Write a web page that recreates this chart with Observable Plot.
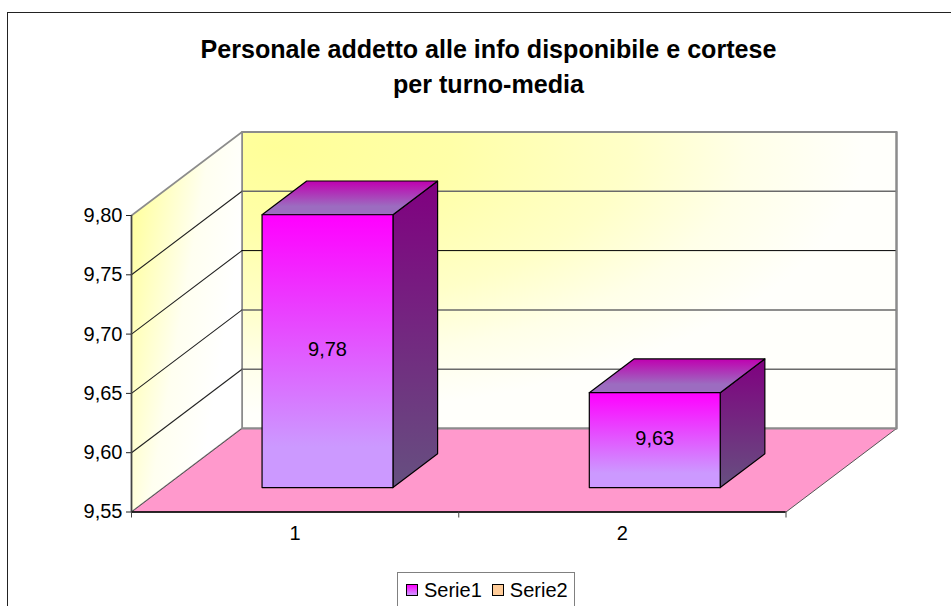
<!DOCTYPE html>
<html lang="it">
<head>
<meta charset="utf-8">
<script src="https://cdn.jsdelivr.net/npm/d3@7"></script>
<script src="https://cdn.jsdelivr.net/npm/@observablehq/plot@0.6"></script>
<style>
  html, body { margin: 0; padding: 0; width: 951px; height: 606px; overflow: hidden; background: #fff;
    font-family: "Liberation Sans", Arial, sans-serif; color: #000; }
  #frame { position: absolute; left: 7px; top: 12px; width: 1000px; height: 700px; border: 1.5px solid #222; }
  #title { position: absolute; left: 0; width: 977px; top: 32px; text-align: center; font-weight: bold;
    font-size: 25.1px; line-height: 35px; }
  #chart { position: absolute; left: 0; top: 0; }
  #legend { position: absolute; left: 397px; top: 572px; width: 178px; height: 60px; border: 1px solid #808080;
    display: flex; gap: 10px; padding: 5px 0 0 8px; box-sizing: border-box; font-size: 20px; line-height: 24px; }
  #legend span.item { display: flex; align-items: center; height: 23px; gap: 6px; }
  #legend i { display: block; width: 10px; height: 10px; border: 1px solid #000; }
</style>
</head>
<body>
<div id="frame"></div>
<div id="chart"></div>
<div id="title">Personale addetto alle info disponibile e cortese<br>per turno-media</div>
<div id="legend"></div>
<script>
const categories = ["1", "2"];
const serie1 = [9.78, 9.63];
const legendNames = ["Serie1", "Serie2"];
const yTicks = [9.55, 9.60, 9.65, 9.70, 9.75, 9.80];

const y0 = 9.55, yMax = 9.80;
const depthX = 0.3377, depthY = 0.0704;   // oblique projection, in data units per unit of depth
const barFront = 0.293, barBack = 0.697, barHalf = 0.2;

// oblique projection of (category position, value, depth) into the x/y data space
const P = (c, v, d) => ({x: c + depthX * d, y: v + depthY * d});
const poly = (pts, options) => Plot.line([...pts, pts[0]].map(p => P(...p)), {x: "x", y: "y", strokeLinejoin: "round", ...options});

const fmt = v => v.toFixed(2).replace(".", ",");

const gradients = () => d3.create("svg:defs").html(`
  <radialGradient id="gBack" cx="0.05" cy="0.05" r="0.9" fx="0.05" fy="0.05">
    <stop offset="0" stop-color="#ffff99"/><stop offset="0.3" stop-color="#ffffa8"/><stop offset="0.6" stop-color="#ffffc8"/><stop offset="0.8" stop-color="#ffffe8"/><stop offset="1" stop-color="#fffffb"/>
  </radialGradient>
  <linearGradient id="gLeft" x1="0" y1="0.15" x2="0.8" y2="0.62">
    <stop offset="0" stop-color="#ffff99"/><stop offset="0.6" stop-color="#fffff0"/><stop offset="1" stop-color="#ffffff"/>
  </linearGradient>
  <linearGradient id="gFront" x1="0" y1="0" x2="0" y2="1">
    <stop offset="0" stop-color="#ff00ff"/><stop offset="0.85" stop-color="#cc99ff"/><stop offset="1" stop-color="#cc99ff"/>
  </linearGradient>
  <linearGradient id="gTop" x1="0" y1="0" x2="0" y2="1">
    <stop offset="0" stop-color="#c000b0"/><stop offset="0.75" stop-color="#9c6cc0"/><stop offset="1" stop-color="#9c6cc0"/>
  </linearGradient>
  <linearGradient id="gSide" x1="0" y1="0" x2="0" y2="1">
    <stop offset="0" stop-color="#800080"/><stop offset="1" stop-color="#665080"/>
  </linearGradient>`).node();

const barFaces = serie1.flatMap((v, i) => {
  const c = i + 0.5, l = c - barHalf, r = c + barHalf;
  return [
    poly([[r, y0, barFront], [r, y0, barBack], [r, v, barBack], [r, v, barFront]], {fill: "url(#gSide)", stroke: "#000", strokeWidth: 1.2}),
    poly([[l, v, barFront], [r, v, barFront], [r, v, barBack], [l, v, barBack]], {fill: "url(#gTop)", stroke: "#000", strokeWidth: 1.2}),
    poly([[l, y0, barFront], [r, y0, barFront], [r, v, barFront], [l, v, barFront]], {fill: "url(#gFront)", stroke: "#000", strokeWidth: 1.2})
  ];
});

const barLabels = serie1.map((v, i) => {
  const p = P(i + 0.5, (v + y0) / 2, barFront);
  return {...p, text: fmt(v)};
});

const grid = yTicks.slice(1, -1);
const backLineInk = v => v === 9.70 ? {stroke: "#000", strokeWidth: 1} : {stroke: "#6a6a6a", strokeWidth: 1.5};

const chart = Plot.plot({
  width: 951,
  height: 606,
  marginLeft: 131,
  marginRight: 165.5,
  marginTop: 215,
  marginBottom: 94.5,
  style: {background: "transparent", fontFamily: "'Liberation Sans', Arial, sans-serif", color: "#000"},
  x: {domain: [0, 2]},
  y: {domain: [y0, yMax]},
  marks: [
    gradients,
    poly([[0, y0, 1], [2, y0, 1], [2, yMax, 1], [0, yMax, 1]], {fill: "url(#gBack)", stroke: "#8c8c8c", strokeWidth: 2}),
    poly([[0, y0, 0], [0, y0, 1], [0, yMax, 1], [0, yMax, 0]], {fill: "url(#gLeft)", stroke: "#8c8c8c", strokeWidth: 1.6}),
    ...grid.map(v => Plot.line([P(0, v, 0), P(0, v, 1)], {x: "x", y: "y", stroke: "#222", strokeWidth: 1.1})),
    ...grid.map(v => Plot.line([P(0, v, 1), P(2, v, 1)], {x: "x", y: "y", ...backLineInk(v)})),
    poly([[0, y0, 0], [2, y0, 0], [2, y0, 1], [0, y0, 1]], {fill: "#ff99cc", stroke: "#555", strokeWidth: 1}),
    Plot.line([P(0, y0, 1), P(2, y0, 1), P(2, yMax, 1)], {x: "x", y: "y", stroke: "#8c8c8c", strokeWidth: 2}),
    Plot.ruleY([y0], {stroke: "#000", strokeWidth: 1.5}),
    Plot.ruleX([0], {stroke: "#444", strokeWidth: 1.5}),
    ...barFaces,
    Plot.text(barLabels, {x: "x", y: "y", text: "text", fontSize: 20, fill: "#000", dy: -2}),
    Plot.axisY(yTicks, {anchor: "left", label: null, tickFormat: fmt, tickSize: 5, tickPadding: 4, fontSize: 20, stroke: "#222"}),
    Plot.axisX([0, 1, 2], {label: null, tickFormat: () => "", tickSize: 6, stroke: "#444"}),
    Plot.axisX([0.5, 1.5], {label: null, tickFormat: d => categories[Math.floor(d)], tickSize: 0, tickPadding: 14, fontSize: 20})
  ]
});
document.getElementById("chart").append(chart);

const swatches = ["linear-gradient(#ff00ff,#cc99ff)", "#ffcc99"];
const legend = d3.select("#legend");
legendNames.forEach((n, i) => {
  const s = legend.append("span").attr("class", "item");
  s.append("i").style("background", swatches[i]);
  s.append("span").text(n);
});
</script>
</body>
</html>
